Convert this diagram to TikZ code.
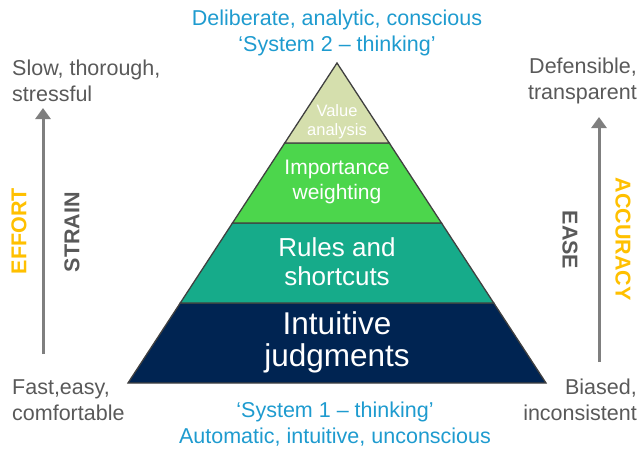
\documentclass[tikz,border=0pt]{standalone}
\usepackage{fontspec}
\setmainfont{Liberation Sans}
\usetikzlibrary{arrows.meta}
\definecolor{valuecol}{HTML}{D5DFAD}
\definecolor{weightcol}{HTML}{4CD64C}
\definecolor{rulecol}{HTML}{16AB8A}
\definecolor{intuitcol}{HTML}{002452}
\definecolor{edgecol}{HTML}{404040}
\definecolor{labelgray}{HTML}{595959}
\definecolor{arrowgray}{HTML}{7F7F7F}
\definecolor{systemblue}{HTML}{1E9BCF}
\definecolor{effortcol}{HTML}{FFC000}
\tikzstyle{layer}=[draw=edgecol,line width=1.3pt,line join=miter]
\tikzstyle{graylabel}=[text=labelgray,inner sep=0pt,font=\fontsize{21.5}{25.5}\selectfont]
\tikzstyle{bluelabel}=[text=systemblue,inner sep=0pt,align=center,font=\fontsize{21.5}{25.5}\selectfont]
\tikzstyle{layertext}=[text=white,inner sep=0pt,align=center]
\tikzstyle{sidearrow}=[draw=arrowgray,line width=3pt,-{Triangle[length=11pt,width=15pt]}]
\tikzstyle{sideword}=[inner sep=0pt,font=\bfseries\fontsize{21.5}{24}\selectfont]

\begin{document}
\begin{tikzpicture}[x=1pt,y=-1pt]
    \useasboundingbox (0,0) rectangle (641,448);
    % pyramid corners and layer borders
    \coordinate (apex) at (337,63);
    \coordinate (l1) at (284.75,143);  \coordinate (r1) at (389.25,143);
    \coordinate (l2) at (232.5,223);   \coordinate (r2) at (441.5,223);
    \coordinate (l3) at (180.25,303);  \coordinate (r3) at (493.75,303);
    \coordinate (l4) at (128,383);     \coordinate (r4) at (546,383);
    \filldraw[layer,fill=intuitcol] (l3) -- (r3) -- (r4) -- (l4) -- cycle;
    \filldraw[layer,fill=rulecol] (l2) -- (r2) -- (r3) -- (l3) -- cycle;
    \filldraw[layer,fill=weightcol] (l1) -- (r1) -- (r2) -- (l2) -- cycle;
    \filldraw[layer,fill=valuecol] (apex) -- (r1) -- (l1) -- cycle;
    \node[layertext,font=\fontsize{16.5}{19}\selectfont] (value) at (337,122) {Value\\analysis};
    \node[layertext,font=\fontsize{21}{24.5}\selectfont] (weight) at (337,182) {Importance\\weighting};
    \node[layertext,font=\fontsize{26}{29}\selectfont] (rules) at (337,262) {Rules and\\shortcuts};
    \node[layertext,font=\fontsize{31.5}{32}\selectfont] (intuit) at (337,342) {Intuitive\\judgments};

    \node[bluelabel] (sys2) at (337,33) {Deliberate, analytic, conscious\\‘System 2 – thinking’};
    \node[bluelabel] (sys1) at (335,424) {‘System 1 – thinking’\\Automatic, intuitive, unconscious};

    \node[graylabel,anchor=west,align=left] (slow) at (12,81) {Slow, thorough,\\stressful};
    \node[graylabel,anchor=west,align=left] (fast) at (12,400) {Fast,easy,\\comfortable};
    \node[graylabel,anchor=east,align=right] (defens) at (637,81) {Defensible,\\transparent};
    \node[graylabel,anchor=east,align=right] (biased) at (637,400) {Biased,\\inconsistent};

    % side arrows
    \coordinate (effbot) at (43,354);  \coordinate (efftop) at (43,108);
    \coordinate (accbot) at (599,362); \coordinate (acctop) at (599,117);
    \draw[sidearrow] (effbot) -- (efftop);
    \draw[sidearrow] (accbot) -- (acctop);
    \node[sideword,text=effortcol,rotate=90] (effort) at (19,231) {EFFORT};
    \node[sideword,text=labelgray,rotate=90] (strain) at (72,232) {STRAIN};
    \node[sideword,text=labelgray,rotate=-90] (ease) at (570,240) {EASE};
    \node[sideword,text=effortcol,rotate=-90] (accur) at (623,239) {ACCURACY};
\end{tikzpicture}
\end{document}
